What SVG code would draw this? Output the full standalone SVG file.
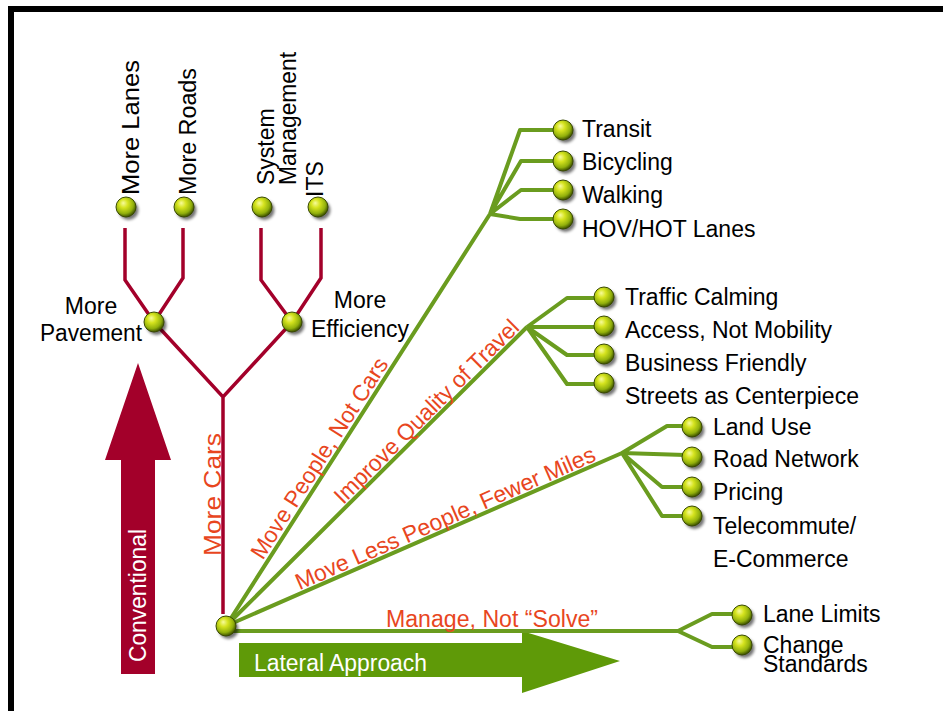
<svg xmlns="http://www.w3.org/2000/svg" xmlns:xlink="http://www.w3.org/1999/xlink" width="943" height="711" viewBox="0 0 943 711">
<defs>
<radialGradient id="bg" cx="0.42" cy="0.38" r="0.62" fx="0.36" fy="0.3">
<stop offset="0" stop-color="#f7fb9c"/>
<stop offset="0.35" stop-color="#d5e31e"/>
<stop offset="0.75" stop-color="#92b00c"/>
<stop offset="1" stop-color="#3e5200"/>
</radialGradient>
<filter id="blur" x="-50%" y="-50%" width="200%" height="200%"><feGaussianBlur stdDeviation="1.6"/></filter>
<g id="ball">
<circle cx="2.5" cy="3" r="10" fill="#000" opacity="0.55" filter="url(#blur)"/>
<circle cx="0" cy="0" r="10" fill="url(#bg)" stroke="#3a4a00" stroke-width="1"/>
</g>
<style>
.t{font-family:"Liberation Sans",Arial,Helvetica,sans-serif;font-size:23px;fill:#000}
.r{font-family:"Liberation Sans",Arial,Helvetica,sans-serif;font-size:23px;fill:#e8461e}
.w{font-family:"Liberation Sans",Arial,Helvetica,sans-serif;font-size:23px;fill:#fff}
.red{fill:none;stroke:#a3002a;stroke-width:3.5;stroke-linejoin:miter}
.grn{fill:none;stroke:#6a9c1f;stroke-width:4;stroke-linejoin:round}
</style>
</defs>
<rect x="0" y="0" width="943" height="711" fill="#fff"/>
<!-- frame -->
<rect x="8" y="6" width="935" height="6" fill="#000"/>
<rect x="8" y="6" width="6" height="705" fill="#000"/>

<!-- big arrows -->
<g id="conventional">
<polygon points="121,674 121,460 105,460 138,363 171,460 155,460 155,674" fill="#a3002a"/>
<text class="w" transform="translate(146,662) rotate(-90)" textLength="133" lengthAdjust="spacingAndGlyphs">Conventional</text>
</g>
<g id="lateral-approach">
<polygon points="239,643 522,643 522,631 620,661 522,693 522,677 239,677" fill="#5f9a08"/>
<text class="w" x="254" y="671" textLength="173" lengthAdjust="spacingAndGlyphs">Lateral Approach</text>
</g>

<g id="connectors">
<path class="red" d="M125,228 V280 L154,322 M183,228 V278 L154,322 M261,228 V280 L292,322 M321,228 V278 L292,322 M154,322 L223,397 L292,322 M223,397 V614"/>
<path class="grn" d="M226,626 L490,214 M490,214 L520,130 H555 M490,214 L521,161 H555 M490,214 L521,190 H555 M490,214 L520,219 H555"/>
<path class="grn" d="M226,626 L527,327 M527,327 L567,298 H596 M527,327 H596 M527,327 L567,355 H596 M527,327 L567,384 H596"/>
<path class="grn" d="M226,626 L622,453 M622,453 L667,426 H685 M622,453 L685,455 M622,453 L662,487 H685 M622,453 L662,516 H685"/>
<path class="grn" d="M232,631 H678 M678,631 L712,614 H735 M678,631 L712,647 H735"/>
<text class="r" transform="translate(221,556) rotate(-90)" textLength="123" lengthAdjust="spacingAndGlyphs">More Cars</text>
<text class="r" transform="translate(266,563) rotate(-57.3)" x="0" y="-4" textLength="234" lengthAdjust="spacingAndGlyphs">Move People, Not Cars</text>
<text class="r" transform="translate(346,508) rotate(-44.8)" x="0" y="-4" textLength="250" lengthAdjust="spacingAndGlyphs">Improve Quality of Travel</text>
<text class="r" transform="translate(301,594) rotate(-23.6)" x="0" y="-4" textLength="325" lengthAdjust="spacingAndGlyphs">Move Less People, Fewer Miles</text>
<text class="r" x="386" y="627" textLength="212" lengthAdjust="spacingAndGlyphs">Manage, Not “Solve”</text>
</g>

<g id="root"><use xlink:href="#ball" x="226" y="626"/></g>

<g id="more-lanes"><use xlink:href="#ball" x="126" y="207"/><text class="t" transform="translate(139,195) rotate(-90)" textLength="135" lengthAdjust="spacingAndGlyphs">More Lanes</text></g>
<g id="more-roads"><use xlink:href="#ball" x="184" y="207"/><text class="t" transform="translate(196,195) rotate(-90)" textLength="127" lengthAdjust="spacingAndGlyphs">More Roads</text></g>
<g id="system-management"><use xlink:href="#ball" x="262" y="207"/><text class="t" transform="translate(274,185) rotate(-90)">System</text><text class="t" transform="translate(296,185) rotate(-90)" textLength="133" lengthAdjust="spacingAndGlyphs">Management</text></g>
<g id="its"><use xlink:href="#ball" x="318" y="207"/><text class="t" transform="translate(323,197) rotate(-90)">ITS</text></g>
<g id="more-pavement"><use xlink:href="#ball" x="154" y="322"/><text class="t" x="91" y="314" text-anchor="middle">More</text><text class="t" x="91" y="341" text-anchor="middle" textLength="102" lengthAdjust="spacingAndGlyphs">Pavement</text></g>
<g id="more-efficiency"><use xlink:href="#ball" x="292" y="322"/><text class="t" x="360" y="308" text-anchor="middle">More</text><text class="t" x="360" y="337" text-anchor="middle">Efficiency</text></g>

<g id="transit"><use xlink:href="#ball" x="563" y="130"/><text class="t" x="582" y="137">Transit</text></g>
<g id="bicycling"><use xlink:href="#ball" x="563" y="161"/><text class="t" x="582" y="170">Bicycling</text></g>
<g id="walking"><use xlink:href="#ball" x="563" y="190"/><text class="t" x="582" y="203">Walking</text></g>
<g id="hov-hot"><use xlink:href="#ball" x="563" y="219"/><text class="t" x="582" y="237">HOV/HOT Lanes</text></g>

<g id="traffic-calming"><use xlink:href="#ball" x="604" y="297"/><text class="t" x="625" y="305">Traffic Calming</text></g>
<g id="access"><use xlink:href="#ball" x="604" y="326"/><text class="t" x="625" y="338">Access, Not Mobility</text></g>
<g id="business"><use xlink:href="#ball" x="604" y="354"/><text class="t" x="625" y="371">Business Friendly</text></g>
<g id="streets"><use xlink:href="#ball" x="604" y="383"/><text class="t" x="625" y="404">Streets as Centerpiece</text></g>

<g id="land-use"><use xlink:href="#ball" x="692" y="427"/><text class="t" x="713" y="435">Land Use</text></g>
<g id="road-network"><use xlink:href="#ball" x="692" y="457"/><text class="t" x="713" y="467">Road Network</text></g>
<g id="pricing"><use xlink:href="#ball" x="692" y="487"/><text class="t" x="713" y="500">Pricing</text></g>
<g id="telecommute"><use xlink:href="#ball" x="692" y="516"/><text class="t" x="713" y="534">Telecommute/</text><text class="t" x="713" y="567">E-Commerce</text></g>

<g id="lane-limits"><use xlink:href="#ball" x="742" y="615"/><text class="t" x="763" y="622">Lane Limits</text></g>
<g id="change-standards"><use xlink:href="#ball" x="742" y="645"/><text class="t" x="763" y="653">Change</text><text class="t" x="763" y="672">Standards</text></g>
</svg>
